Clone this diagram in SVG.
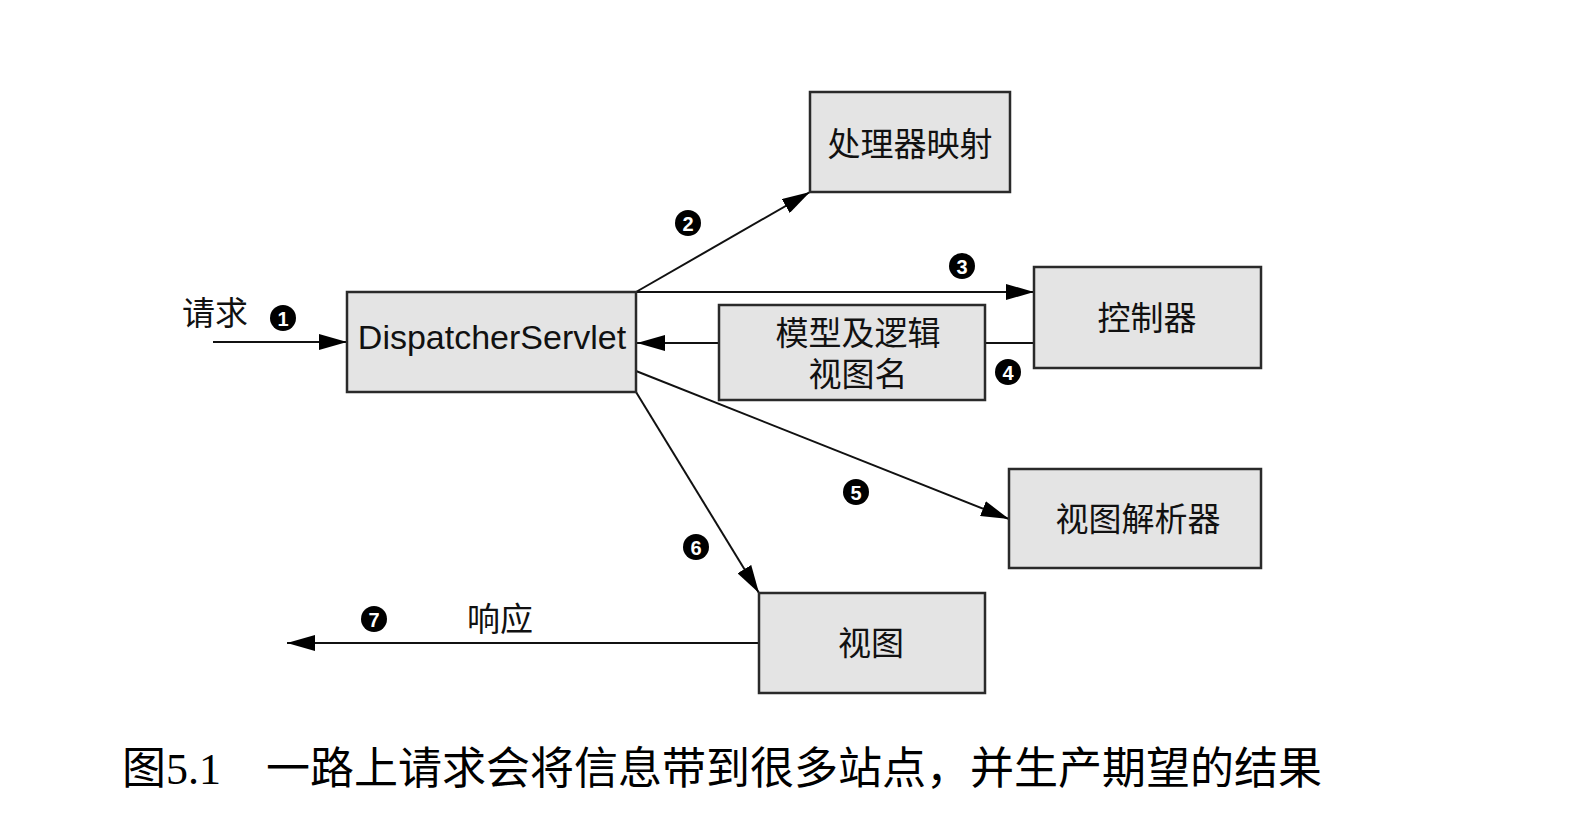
<svg xmlns="http://www.w3.org/2000/svg" width="1592" height="828" viewBox="0 0 1592 828">
<style>
.box{fill:#e4e4e4;stroke:#2a2a2a;stroke-width:2.5}
.cjk{font-family:"Liberation Sans","Noto Sans CJK SC",sans-serif;font-size:33px;fill:#111;text-anchor:middle;dominant-baseline:central}
.lat{font-family:"Liberation Sans","Noto Sans CJK SC",sans-serif;font-size:34px;fill:#111;text-anchor:middle}
.ln{fill:none;stroke:#111;stroke-width:2}
.num circle{fill:#000}
.num text{font-family:"Liberation Sans",sans-serif;font-weight:bold;font-size:20px;fill:#fff;text-anchor:middle;dominant-baseline:central}
.cap{font-family:"Liberation Serif","Noto Sans CJK SC",serif;font-size:44px;fill:#000}
</style>
<defs>
<marker id="ah" viewBox="0 0 28 16" refX="28" refY="8" markerWidth="28" markerHeight="16" markerUnits="userSpaceOnUse" orient="auto">
<path d="M0,0 L28,8 L0,16 Z" fill="#000"/>
</marker>
</defs>
<rect width="1592" height="828" fill="#fff"/>

<g id="connectors">
<line class="ln" x1="213" y1="342" x2="347" y2="342" marker-end="url(#ah)"/>
<line class="ln" x1="636" y1="292" x2="810" y2="192" marker-end="url(#ah)"/>
<line class="ln" x1="636" y1="292" x2="1034" y2="292" marker-end="url(#ah)"/>
<line class="ln" x1="1034" y1="343" x2="985" y2="343"/>
<line class="ln" x1="719" y1="343" x2="637" y2="343" marker-end="url(#ah)"/>
<line class="ln" x1="636" y1="371" x2="1009" y2="519" marker-end="url(#ah)"/>
<line class="ln" x1="636" y1="392" x2="759" y2="593" marker-end="url(#ah)"/>
<line class="ln" x1="759" y1="643" x2="287" y2="643" marker-end="url(#ah)"/>
</g>

<g id="n-dispatcher">
<rect class="box" x="347" y="292" width="289" height="100"/>
<text class="lat" x="492" y="349">DispatcherServlet</text>
</g>
<g id="n-mapping">
<rect class="box" x="810" y="92" width="200" height="100"/>
<text class="cjk" x="910" y="144">处理器映射</text>
</g>
<g id="n-controller">
<rect class="box" x="1034" y="267" width="227" height="101"/>
<text class="cjk" x="1147" y="318">控制器</text>
</g>
<g id="n-model">
<rect class="box" x="719" y="305" width="266" height="95"/>
<text class="cjk" x="858" y="333">模型及逻辑</text>
<text class="cjk" x="858" y="374">视图名</text>
</g>
<g id="n-resolver">
<rect class="box" x="1009" y="469" width="252" height="99"/>
<text class="cjk" x="1138" y="519">视图解析器</text>
</g>
<g id="n-view">
<rect class="box" x="759" y="593" width="226" height="100"/>
<text class="cjk" x="871" y="643">视图</text>
</g>

<g id="labels">
<text class="cjk" x="215" y="313">请求</text>
<text class="cjk" x="500" y="619">响应</text>
<g class="num"><circle cx="283" cy="318" r="13"/><text x="283" y="319">1</text></g>
<g class="num"><circle cx="688" cy="223" r="13"/><text x="688" y="224">2</text></g>
<g class="num"><circle cx="962" cy="266" r="13"/><text x="962" y="267">3</text></g>
<g class="num"><circle cx="1008" cy="372" r="13"/><text x="1008" y="373">4</text></g>
<g class="num"><circle cx="856" cy="492" r="13"/><text x="856" y="493">5</text></g>
<g class="num"><circle cx="696" cy="547" r="13"/><text x="696" y="548">6</text></g>
<g class="num"><circle cx="374" cy="619" r="13"/><text x="374" y="620">7</text></g>
</g>

<g id="caption">
<text class="cap" x="122" y="784">图5.1</text>
<text class="cap" x="266" y="784">一路上请求会将信息带到很多站点，并生产期望的结果</text>
</g>
</svg>
